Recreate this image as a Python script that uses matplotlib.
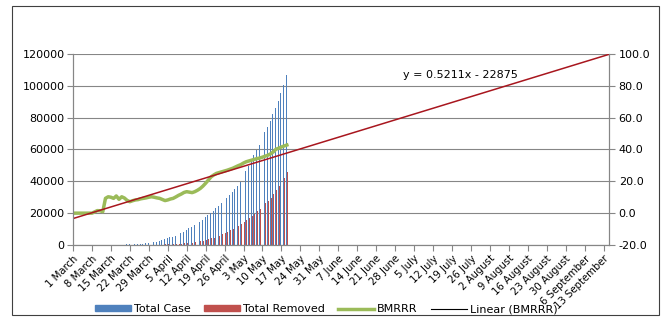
import numpy as np
import matplotlib.pyplot as plt
from matplotlib.lines import Line2D
from matplotlib.patches import Patch, Rectangle

# daily values, 1 March .. 19 May
total_case = [3, 5, 6, 28, 30, 31, 34, 39, 48, 63,
              71, 81, 91, 102, 112, 126, 146, 171, 198, 256,
              334, 403, 497, 571, 657, 730, 883, 1019, 1139, 1326,
              1635, 2059, 2545, 3105, 3666, 4289, 4778, 5311, 5916, 6725,
              7598, 8446, 9205, 10453, 11487, 12322, 13430, 14352, 15722, 17615,
              18539, 20080, 21370, 23077, 24530, 26283, 27890, 29451, 31324, 33062,
              34863, 37257, 39699, 42505, 46437, 49400, 52987, 56351, 59695, 62808,
              67161, 70768, 74292, 78055, 81997, 85784, 90648, 95698, 100328, 106750]
total_removed = [3, 3, 3, 3, 3, 3, 3, 3, 4, 4,
                 4, 5, 12, 13, 15, 15, 17, 17, 23, 26,
                 27, 30, 45, 50, 55, 60, 85, 100, 115, 140,
                 150, 180, 200, 250, 310, 400, 450, 520, 620, 720,
                 820, 1000, 1100, 1300, 1500, 1800, 2100, 2400, 2800, 3200,
                 3600, 4100, 4600, 5300, 5900, 6700, 7600, 8200, 9200, 10200,
                 11200, 12200, 13400, 14600, 15900, 17000, 18100, 19700, 21100, 22600,
                 24200, 26300, 27600, 29700, 32000, 34400, 37000, 39900, 42400, 45600]
bmrrr = [0, 0, 0, 0, 0, 0, 0, 0, 0.8, 1.6,
         1.5, 0.9, 9.3, 10.3, 10.0, 9.3, 10.8, 8.7, 10.3, 9.5,
         8.0, 7.2, 7.8, 8.3, 8.5, 9.0, 9.3, 9.6, 10.0, 10.3,
         10.0, 9.6, 9.3, 8.6, 7.9, 8.3, 8.9, 9.3, 10.2, 11.2,
         12.0, 13.0, 13.5, 13.2, 12.9, 13.5, 14.4, 15.5, 17.0, 18.8,
         20.8, 22.8, 24.0, 25.0, 25.5, 26.0, 26.5, 27.0, 27.6, 28.2,
         29.0, 29.8, 30.5, 31.5, 32.3, 32.8, 33.3, 33.8, 34.3, 34.6,
         35.2, 35.8, 36.4, 37.3, 38.5, 40.2, 40.8, 41.6, 42.2, 42.8]
tick_labels = ['1 March', '8 March', '15 March', '22 March', '29 March',
               '5 April', '12 April', '19 April', '26 April',
               '3 May', '10 May', '17 May', '24 May', '31 May',
               '7 June', '14 June', '21 June', '28 June',
               '5 July', '12 July', '19 July', '26 July',
               '2 August', '9 August', '16 August', '23 August', '30 August',
               '6 September', '13 September']

# Excel trendline of BMRRR (x = Excel date serial)
trend_slope = 0.5211
trend_intercept = -22875
first_serial = 43891   # 1 March 2020
last_day = 198

fig = plt.figure(figsize=(6.66, 3.18), dpi=100)
ax = fig.add_axes([0.1096, 0.2296, 0.8048, 0.6006])

days = np.arange(len(total_case))
ax.bar(days - 0.2, total_case, width=0.32, color='#4F81BD')
ax.bar(days + 0.2, total_removed, width=0.32, color='#C0504D')

ax.set_xlim(0, last_day)
ax.set_ylim(0, 120000)
ax.set_yticks(range(0, 120001, 20000))
ax.set_xticks(np.arange(0, 7 * len(tick_labels), 7))
ax.set_xticklabels(tick_labels, rotation=45, ha='right', rotation_mode='anchor', fontsize=7.3)
ax.tick_params(axis='y', labelsize=8, length=4, color='#868686', pad=2)
ax.tick_params(axis='x', length=4, color='#868686', pad=2)
ax.grid(axis='y', color='#868686', lw=0.8)
ax.set_axisbelow(True)
ax.spines['top'].set_visible(False)
for s in ['left', 'right', 'bottom']:
    ax.spines[s].set_color('#868686')

ax2 = ax.twinx()
ax2.plot(days, bmrrr, color='#9BBB59', lw=2.5)
tx = np.array([0, last_day])
ax2.plot(tx, trend_slope * (first_serial + tx) + trend_intercept, color='#A8161E', lw=1.1)
ax2.set_ylim(-20, 100)
ax2.set_yticks(range(-20, 101, 20))
ax2.set_yticklabels([f'{v:.1f}' for v in range(-20, 101, 20)])
ax2.tick_params(axis='y', labelsize=8, length=4, color='#868686', pad=3)
ax2.spines['top'].set_visible(False)
for s in ['left', 'right', 'bottom']:
    ax2.spines[s].set_color('#868686')
ax2.text(143, 87, 'y = 0.5211x - 22875', fontsize=8, ha='center', va='center')

handles = [Patch(color='#4F81BD'), Patch(color='#C0504D'),
           Line2D([], [], color='#9BBB59', lw=2.5), Line2D([], [], color='black', lw=0.8)]
fig.legend(handles, ['Total Case', 'Total Removed', 'BMRRR', 'Linear (BMRRR)'],
           loc='center', bbox_to_anchor=(0.49, 0.028), ncol=4, frameon=False,
           fontsize=8, handlelength=3.2, handleheight=0.5, handletextpad=0.3,
           columnspacing=1.2)

fig.patches.append(Rectangle((0.018, 0.0094), 0.9715, 0.9717, transform=fig.transFigure,
                             fill=False, edgecolor='#404040', lw=0.8))

fig.savefig('out.png', dpi=100)
